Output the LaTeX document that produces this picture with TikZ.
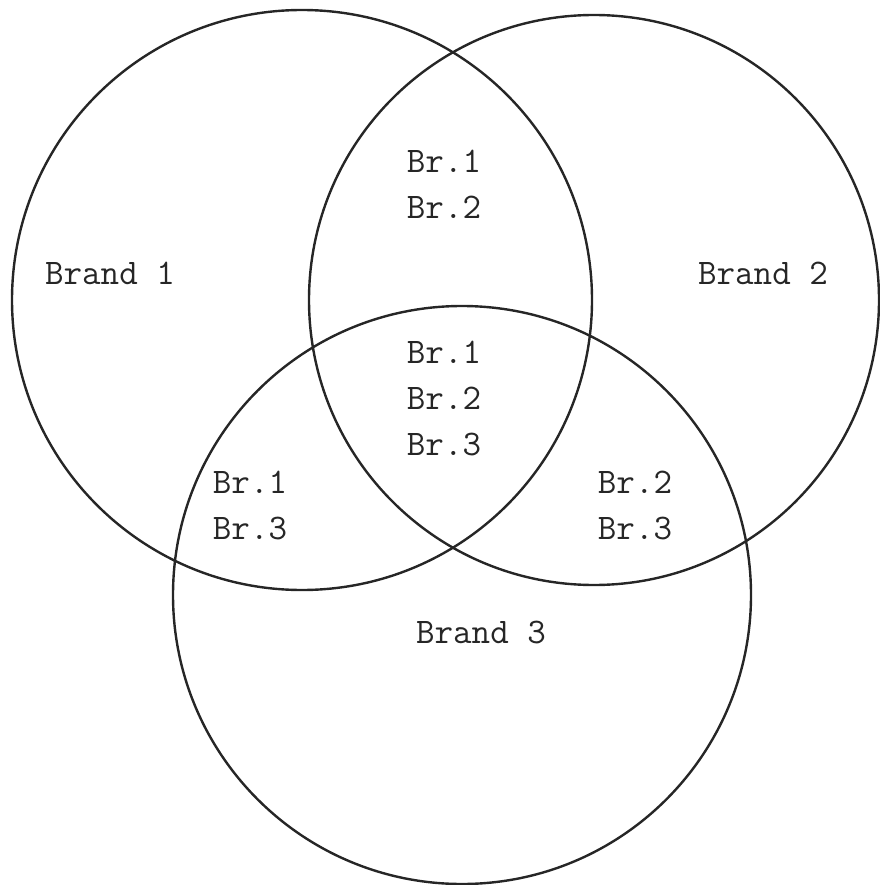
\documentclass[tikz,border=0pt]{standalone}
\begin{document}
\begin{tikzpicture}[x=1pt,y=-1pt,
  ring/.style={circle,draw=black!85,line width=2.4pt,inner sep=0pt},
  lbl/.style={font=\ttfamily\fontsize{36}{46}\selectfont,align=center,inner sep=0pt,text=black!85}]
\useasboundingbox (0,0) rectangle (879,885);
\node[ring,minimum size=580pt] (c1) at (302,300) {};
\node[ring,minimum size=570pt] (c2) at (594,300) {};
\node[ring,minimum size=578pt] (c3) at (462,595) {};
\node[lbl] (b1) at (110,273) {Brand 1};
\node[lbl] (b2) at (763,273) {Brand 2};
\node[lbl] (b3) at (481,632) {Brand 3};
\node[lbl] (b12) at (444,184) {Br.1\\Br.2};
\node[lbl] (b123) at (444,398) {Br.1\\Br.2\\Br.3};
\node[lbl] (b13) at (250,505) {Br.1\\Br.3};
\node[lbl] (b23) at (635,505) {Br.2\\Br.3};
\end{tikzpicture}
\end{document}
